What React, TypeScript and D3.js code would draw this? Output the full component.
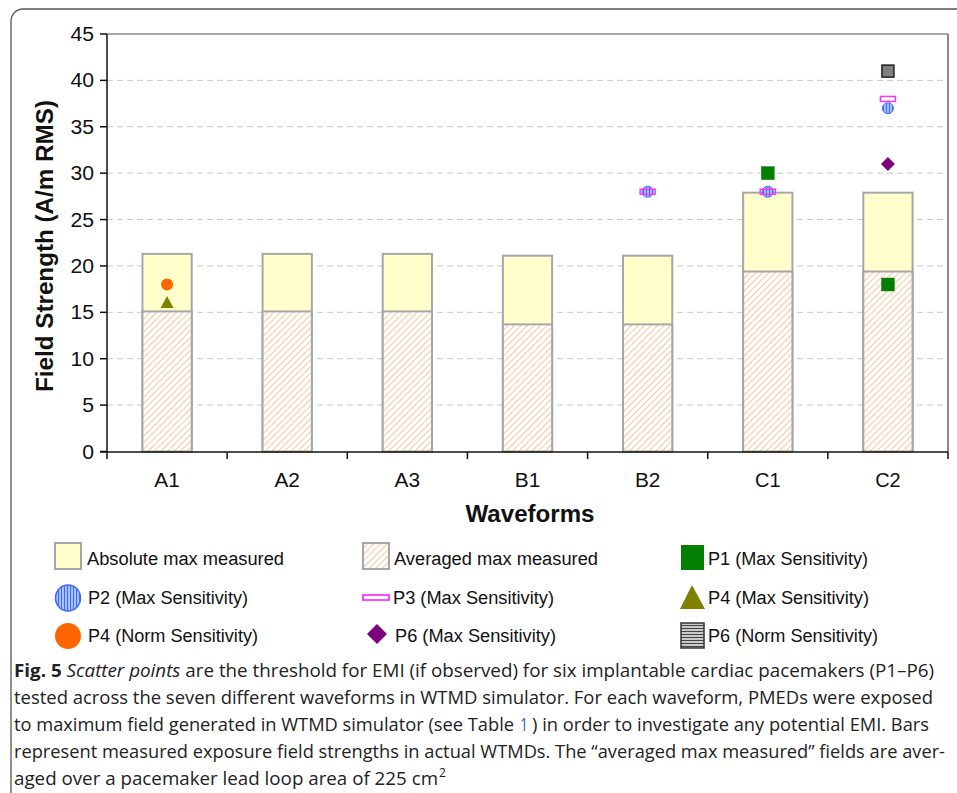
import React from "react";
import * as d3 from "d3";

const categories = ["A1", "A2", "A3", "B1", "B2", "C1", "C2"];
const absoluteMax = [21.3, 21.3, 21.3, 21.1, 21.1, 27.9, 27.9];
const averagedMax = [15.1, 15.1, 15.1, 13.7, 13.7, 19.4, 19.4];
const yTicks = [0, 5, 10, 15, 20, 25, 30, 35, 40, 45];

// scatter thresholds [category, value]
const p1Max: [string, number][] = [["C1", 30], ["C2", 18]];
const p2Max: [string, number][] = [["B2", 28], ["C1", 28], ["C2", 37]];
const p3Max: [string, number][] = [["B2", 28], ["C1", 28], ["C2", 38]];
const p4Max: [string, number][] = [["A1", 16]];
const p4Norm: [string, number][] = [["A1", 18]];
const p6Max: [string, number][] = [["C2", 31]];
const p6Norm: [string, number][] = [["C2", 41]];

const W = 957, H = 793;
const ARIAL = "'Liberation Sans', Arial, sans-serif";
const CAP = "'Open Sans', 'Noto Sans', sans-serif";

export default function App() {
  const x = d3.scaleBand<string>().domain(categories).range([107, 948]).padding(0);
  const y = d3.scaleLinear().domain([0, 45]).range([451.5, 34]);
  const bw = x.bandwidth() * 0.41;
  const cx = (c: string) => (x(c) as number) + x.bandwidth() / 2;

  const legendText = (tx: number, ty: number, s: string, len: number) => (
    <text x={tx} y={ty} fontSize={18} fontFamily={ARIAL} fill="#111" dominantBaseline="central"
      textLength={len} lengthAdjust="spacingAndGlyphs">{s}</text>
  );

  return (
    <svg width={W} height={H} style={{ position: "absolute", left: 0, top: 0, background: "#fff" }}>
      <defs>
        <pattern id="hatch" width="4.6" height="4.6" patternUnits="userSpaceOnUse" patternTransform="rotate(45)">
          <rect width="4.6" height="4.6" fill="#fff" />
          <line x1="0" y1="0" x2="0" y2="4.6" stroke="#f6c69a" strokeWidth="2" />
        </pattern>
        <pattern id="vstripe" width="3" height="3" patternUnits="userSpaceOnUse">
          <rect width="3" height="3" fill="#a9c0ff" />
          <line x1="1.5" y1="0" x2="1.5" y2="3" stroke="#3d6bff" strokeWidth="1" />
        </pattern>
        <pattern id="hstripe" width="3" height="3" patternUnits="userSpaceOnUse">
          <rect width="3" height="3" fill="#d8d8d8" />
          <line x1="0" y1="1.5" x2="3" y2="1.5" stroke="#444" strokeWidth="1.2" />
        </pattern>
      </defs>

      {/* figure frame */}
      <rect x={11} y={9} width={1200} height={1200} rx={12} fill="none" stroke="#555" strokeWidth={1.3} />

      {/* gridlines */}
      {yTicks.filter(t => t > 0 && t < 45).map(t => (
        <line key={t} x1={107} x2={948} y1={y(t)} y2={y(t)} stroke="#c8c8c8" strokeWidth={1} strokeDasharray="6,4" />
      ))}

      {/* bars */}
      {categories.map((c, i) => (
        <g key={c}>
          <rect x={cx(c) - bw / 2} y={y(absoluteMax[i])} width={bw} height={y(0) - y(absoluteMax[i])}
            fill="#ffffcc" stroke="#a6a6a6" strokeWidth={2} />
          <rect x={cx(c) - bw / 2} y={y(averagedMax[i])} width={bw} height={y(0) - y(averagedMax[i])}
            fill="url(#hatch)" stroke="#a6a6a6" strokeWidth={2} />
        </g>
      ))}

      {/* plot border */}
      <line x1={107} x2={948} y1={34} y2={34} stroke="#8a8a8a" strokeWidth={1.5} />
      <line x1={948} x2={948} y1={34} y2={452} stroke="#8a8a8a" strokeWidth={2} />
      <line x1={107} x2={107} y1={34} y2={452} stroke="#111" strokeWidth={1.5} />
      <line x1={100} x2={948} y1={452} y2={452} stroke="#111" strokeWidth={1.5} />

      {/* y ticks */}
      {yTicks.map(t => (
        <g key={t}>
          <line x1={100} x2={107} y1={y(t)} y2={y(t)} stroke="#111" strokeWidth={1.5} />
          <text x={94} y={y(t)} textAnchor="end" dominantBaseline="central" fontSize={19.5} fontFamily={ARIAL} fill="#111"
            textLength={String(t).length * 11.8} lengthAdjust="spacingAndGlyphs">{t}</text>
        </g>
      ))}
      {/* x ticks */}
      {[...categories.map(c => x(c) as number), 948].map((v, i) => (
        <line key={i} x1={v} x2={v} y1={452} y2={459} stroke="#111" strokeWidth={1.5} />
      ))}
      {categories.map(c => (
        <text key={c} x={cx(c)} y={487} textAnchor="middle" fontSize={19.5} fontFamily={ARIAL} fill="#111"
          textLength={25.5} lengthAdjust="spacingAndGlyphs">{c}</text>
      ))}

      {/* axis titles */}
      <text x={530} y={522} textAnchor="middle" fontSize={23.5} fontWeight="bold" fontFamily={ARIAL} fill="#111"
        textLength={129} lengthAdjust="spacingAndGlyphs">Waveforms</text>
      <text transform={`translate(53,246) rotate(-90)`} textAnchor="middle" fontSize={23.5} fontWeight="bold" fontFamily={ARIAL} fill="#111"
        textLength={292} lengthAdjust="spacingAndGlyphs">Field Strength (A/m RMS)</text>

      {/* scatter points */}
      {p2Max.map(([c, v], i) => (
        <circle key={"p2" + i} cx={cx(c)} cy={y(v)} r={5.5} fill="url(#vstripe)" stroke="#3d6bff" strokeWidth={1} />
      ))}
      {p3Max.map(([c, v], i) => (
        <rect key={"p3" + i} x={cx(c) - 7.5} y={y(v) - 2.5} width={15} height={5} fill="none" stroke="#ff33ff" strokeWidth={1.5} />
      ))}
      {p1Max.map(([c, v], i) => (
        <rect key={"p1" + i} x={cx(c) - 6.5} y={y(v) - 6.5} width={13} height={13} fill="#007f00" stroke="#1a8a1a" strokeWidth={0.5} />
      ))}
      {p4Max.map(([c, v], i) => (
        <path key={"p4m" + i} d={`M${cx(c)},${y(v) - 7}L${cx(c) + 6.5},${y(v) + 5}L${cx(c) - 6.5},${y(v) + 5}Z`} fill="#808000" />
      ))}
      {p4Norm.map(([c, v], i) => (
        <circle key={"p4n" + i} cx={cx(c)} cy={y(v)} r={6} fill="#ff6600" />
      ))}
      {p6Max.map(([c, v], i) => (
        <path key={"p6m" + i} d={`M${cx(c)},${y(v) - 7}L${cx(c) + 7},${y(v)}L${cx(c)},${y(v) + 7}L${cx(c) - 7},${y(v)}Z`} fill="#7f007f" />
      ))}
      {p6Norm.map(([c, v], i) => (
        <rect key={"p6n" + i} x={cx(c) - 6} y={y(v) - 6} width={12} height={12} fill="#808080" stroke="#222" strokeWidth={1.5} />
      ))}

      {/* legend */}
      <rect x={55} y={543} width={26} height={26} fill="#ffffcc" stroke="#a6a6a6" strokeWidth={2} />
      {legendText(87, 559, "Absolute max measured", 197)}
      <rect x={363} y={543} width={26} height={26} fill="url(#hatch)" stroke="#a6a6a6" strokeWidth={2} />
      {legendText(394, 559, "Averaged max measured", 204)}
      <rect x={681} y={545} width={23} height={25} fill="#007f00" />
      {legendText(708, 559, "P1 (Max Sensitivity)", 160)}

      <ellipse cx={68} cy={598} rx={12.5} ry={13} fill="url(#vstripe)" stroke="#3d6bff" strokeWidth={1.5} />
      {legendText(88, 598, "P2 (Max Sensitivity)", 160)}
      <rect x={363} y={595} width={26} height={5} fill="#fff" stroke="#ff33ff" strokeWidth={1.8} />
      {legendText(393, 598, "P3 (Max Sensitivity)", 161)}
      <path d="M692,585L705,609L680,609Z" fill="#808000" />
      {legendText(708, 598, "P4 (Max Sensitivity)", 161)}

      <circle cx={68} cy={636} r={13} fill="#ff6600" />
      {legendText(88, 636, "P4 (Norm Sensitivity)", 170)}
      <path d="M377,624L387,634L377,644L367,634Z" fill="#7f007f" />
      {legendText(395, 636, "P6 (Max Sensitivity)", 161)}
      <rect x={681} y={623} width={23} height={25} fill="url(#hstripe)" stroke="#333" strokeWidth={1.5} />
      {legendText(708, 636, "P6 (Norm Sensitivity)", 170)}

      {/* caption */}
      <text x={14} y={677} fontSize={18.5} fontFamily={CAP} fill="#222" textLength={920} lengthAdjust="spacingAndGlyphs">
        <tspan fontWeight="bold">Fig. 5</tspan>{"  "}<tspan fontStyle="italic">Scatter points</tspan> are the threshold for EMI (if observed) for six implantable cardiac pacemakers (P1–P6)
      </text>
      <text x={14} y={704} fontSize={18.5} fontFamily={CAP} fill="#222" textLength={919} lengthAdjust="spacingAndGlyphs">
        tested across the seven different waveforms in WTMD simulator. For each waveform, PMEDs were exposed
      </text>
      <text x={14} y={731} fontSize={18.5} fontFamily={CAP} fill="#222" textLength={500} lengthAdjust="spacingAndGlyphs">
        to maximum field generated in WTMD simulator (see Table
      </text>
      <text x={520} y={731} fontSize={18.5} fontFamily={CAP} fill="#1f5fc4" textLength={8} lengthAdjust="spacingAndGlyphs">1</text>
      <text x={532} y={731} fontSize={18.5} fontFamily={CAP} fill="#222" textLength={397} lengthAdjust="spacingAndGlyphs">
        ) in order to investigate any potential EMI. Bars
      </text>
      <text x={14} y={758} fontSize={18.5} fontFamily={CAP} fill="#222" textLength={931} lengthAdjust="spacingAndGlyphs">
        represent measured exposure field strengths in actual WTMDs. The “averaged max measured” fields are aver-
      </text>
      <text x={14} y={785} fontSize={18.5} fontFamily={CAP} fill="#222" textLength={424} lengthAdjust="spacingAndGlyphs">
        aged over a pacemaker lead loop area of 225 cm
      </text>
      <text x={439} y={777} fontSize={12} fontFamily={CAP} fill="#222">2</text>
    </svg>
  );
}
